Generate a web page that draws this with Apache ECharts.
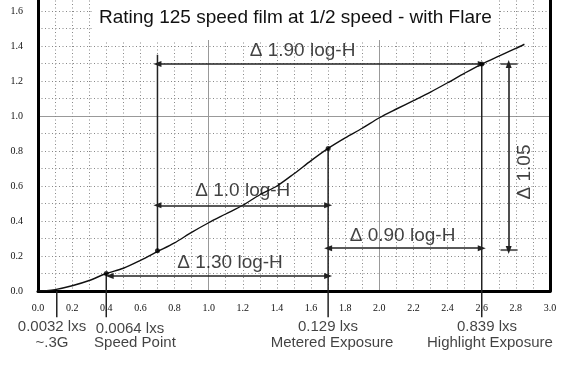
<!DOCTYPE html>
<html><head><meta charset="utf-8">
<script src="https://cdn.jsdelivr.net/npm/echarts@6/dist/echarts.min.js"></script>
<style>html,body{margin:0;padding:0;background:#fff}#c{width:576px;height:368px}</style>
</head><body><div id="c"></div>
<script>
// ---- data ----
const titleText = 'Rating 125 speed film at 1/2 speed - with Flare';
const curveX = [0.0, 0.05, 0.1, 0.2, 0.3, 0.4, 0.5, 0.6, 0.7, 0.8, 0.9, 1.0, 1.1, 1.2, 1.3, 1.4, 1.5, 1.6, 1.7, 1.8, 1.9, 2.0, 2.1, 2.2, 2.3, 2.4, 2.5, 2.6, 2.7, 2.8, 2.85];
const curveY = [0.0, 0.002, 0.008, 0.03, 0.06, 0.1, 0.13, 0.175, 0.225, 0.275, 0.335, 0.39, 0.44, 0.49, 0.55, 0.60, 0.67, 0.745, 0.815, 0.875, 0.93, 0.99, 1.04, 1.088, 1.137, 1.19, 1.245, 1.297, 1.342, 1.386, 1.41];
const keyX = [0.4, 0.7, 1.7, 2.6];
const keyY = [0.1, 0.23, 0.815, 1.297];
// plain reference lines: [x, yFrom, yTo]
const vLines = [[0.11, 0, -0.15], [0.4, 0.1, -0.15], [0.7, 1.35, 0.23], [1.7, 0.815, -0.15], [2.6, 1.297, -0.15]];
// short horizontal bars: [y, xFrom, xTo]
const hBars = [[1.297, 2.71, 2.81], [0.234, 2.71, 2.81]];
// double arrows: [x1, y1, x2, y2]
const arrows = [[0.7, 1.297, 2.6, 1.297], [0.7, 0.49, 1.7, 0.49], [0.42, 0.086, 1.7, 0.086], [1.7, 0.245, 2.6, 0.245], [2.758, 1.297, 2.758, 0.234]];
const deltaText = ['\u0394 1.90 log-H', '\u0394 1.0 log-H', '\u0394 1.30 log-H', '\u0394 0.90 log-H', '\u0394 1.05'];
const deltaAt = [[1.55, 1.375], [1.2, 0.57], [1.125, 0.163], [2.136, 0.314], [2.853, 0.68]];
const deltaRotate = [0, 0, 0, 0, 90];
const captionText = ['0.0032 lxs', '~.3G', '0.0064 lxs', 'Speed Point', '0.129 lxs', 'Metered Exposure', '0.839 lxs', 'Highlight Exposure'];
const captionAt = [[0.082, -0.206], [0.082, -0.294], [0.539, -0.217], [0.568, -0.294], [1.699, -0.206], [1.723, -0.294], [2.631, -0.206], [2.648, -0.294]];

// ---- chart ----
const chart = echarts.init(document.getElementById('c'), null, {renderer: 'canvas'});
const dotted = {color: '#888', width: 1, type: [1, 2.5]};
const tickFont = {fontFamily: 'Liberation Serif', fontSize: 10, color: '#111'};
const seriesList = [];
seriesList.push({
  type: 'line', data: curveX.map((x, i) => [x, curveY[i]]), showSymbol: false, smooth: 0.3,
  lineStyle: {color: '#111', width: 1.4}, z: 3, silent: true
});
seriesList.push({
  type: 'scatter', data: keyX.map((x, i) => [x, keyY[i]]), symbol: 'circle', symbolSize: 5,
  itemStyle: {color: '#000'}, z: 5, silent: true
});
vLines.forEach(l => seriesList.push({
  type: 'line', data: [[l[0], l[1]], [l[0], l[2]]], showSymbol: false, clip: false,
  lineStyle: {color: '#222', width: 1.5}, z: 4, silent: true
}));
hBars.forEach(b => seriesList.push({
  type: 'line', data: [[b[1], b[0]], [b[2], b[0]]], showSymbol: false, clip: false,
  lineStyle: {color: '#666', width: 2}, z: 4, silent: true
}));
seriesList.push({
  type: 'line', data: [], silent: true,
  markLine: {
    silent: true, symbol: ['triangle', 'triangle'], symbolSize: [6, 8], animation: false,
    lineStyle: {color: '#222', width: 1.6, type: 'solid'}, label: {show: false},
    data: arrows.map(a => [{coord: [a[0], a[1]]}, {coord: [a[2], a[3]]}])
  }
});
deltaText.forEach((t, i) => seriesList.push({
  type: 'scatter', data: [deltaAt[i]], symbolSize: 1, itemStyle: {color: 'rgba(0,0,0,0)'}, clip: false, silent: true, z: 6,
  label: {show: true, position: 'inside', formatter: t, rotate: deltaRotate[i], fontFamily: 'Liberation Sans', fontSize: 19, color: '#111'}
}));
captionText.forEach((t, i) => seriesList.push({
  type: 'scatter', data: [captionAt[i]], symbolSize: 1, itemStyle: {color: 'rgba(0,0,0,0)'}, clip: false, silent: true, z: 6,
  label: {show: true, position: 'inside', formatter: t, fontFamily: 'Liberation Sans', fontSize: 15, color: '#111'}
}));

chart.setOption({
  animation: false,
  backgroundColor: '#fff',
  title: {
    text: titleText, left: 92, top: 0, padding: [8, 7, 13, 7], backgroundColor: '#fff',
    textStyle: {fontFamily: 'Liberation Sans', fontSize: 19, fontWeight: 'normal', color: '#111'}
  },
  grid: {left: 38, top: -6.5, width: 512, height: 297.5, outerBoundsMode: 'none', containLabel: false},
  xAxis: [
    {type: 'value', min: 0, max: 3, interval: 0.2, position: 'bottom',
     axisLine: {show: true, lineStyle: {color: '#000', width: 3}}, axisTick: {show: false},
     axisLabel: Object.assign({margin: 12, formatter: v => v.toFixed(1)}, tickFont),
     splitLine: {show: true, lineStyle: dotted},
     minorTick: {show: false, splitNumber: 2}, minorSplitLine: {show: true, lineStyle: dotted}},
    {type: 'value', min: 0, max: 3, interval: 1, position: 'bottom',
     axisLine: {show: false}, axisTick: {show: false}, axisLabel: {show: false},
     splitLine: {show: true, lineStyle: {color: '#999', width: 1}}}
  ],
  yAxis: [
    {type: 'value', min: 0, max: 1.7, interval: 0.2, position: 'left',
     axisLine: {show: true, onZero: false, lineStyle: {color: '#000', width: 3}}, axisTick: {show: false},
     axisLabel: Object.assign({margin: 15, formatter: v => (Math.abs(v * 5 - Math.round(v * 5)) < 1e-6 ? v.toFixed(1) : '')}, tickFont),
     splitLine: {show: true, lineStyle: dotted},
     minorTick: {show: false, splitNumber: 2}, minorSplitLine: {show: true, lineStyle: dotted}},
    {type: 'value', min: 0, max: 1.7, interval: 1, position: 'left',
     axisLine: {show: false}, axisTick: {show: false}, axisLabel: {show: false},
     splitLine: {show: true, lineStyle: {color: '#999', width: 1}}},
    {type: 'value', min: 0, max: 1.7, position: 'right',
     axisLine: {show: true, onZero: false, lineStyle: {color: '#000', width: 3}}, axisTick: {show: false},
     axisLabel: {show: false}, splitLine: {show: false}}
  ],
  series: seriesList
});
</script></body></html>
